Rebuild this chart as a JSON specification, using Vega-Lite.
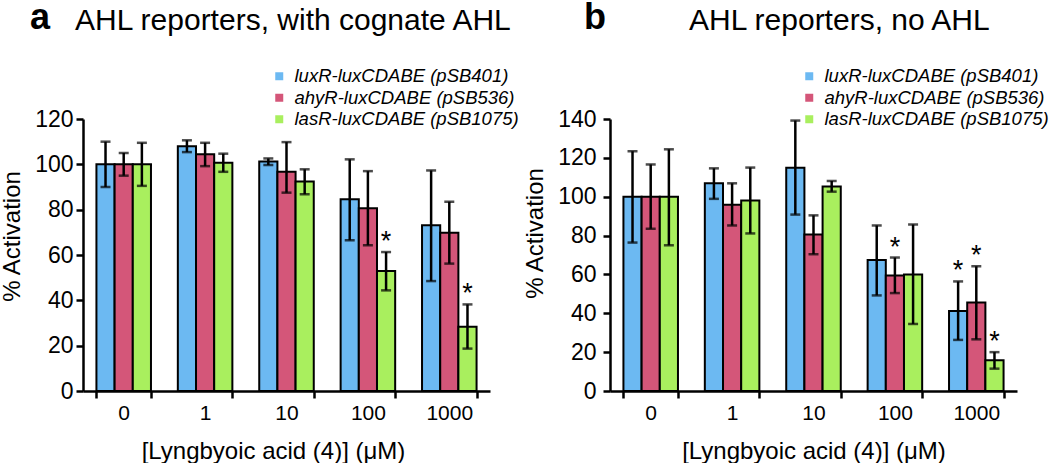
{
  "$schema": "https://vega.github.io/schema/vega-lite/v6.json",
  "padding": {"left": 0, "top": 0, "right": 0, "bottom": 0},
  "background": "white",
  "config": {
    "font": "Liberation Sans",
    "view": {"stroke": null},
    "axis": {
      "domainColor": "black", "domainWidth": 2.5, "tickColor": "black", "tickWidth": 2.5, "tickSize": 7,
      "labelColor": "black", "titleColor": "black", "titleFontWeight": "normal", "grid": false,
      "labelFont": "Liberation Sans", "titleFont": "Liberation Sans", "labelOverlap": false
    },
    "title": {"font": "Liberation Sans", "color": "black", "subtitleColor": "black", "subtitleFont": "Liberation Sans"},
    "legend": {"labelFont": "Liberation Sans", "labelColor": "black", "labelLimit": 400}
  },
  "datasets": {
    "d": [
      {"panel": "a", "conc": "0", "reporter": "luxR-luxCDABE (pSB401)", "mean": 100, "lo": 90, "hi": 110, "star": ""},
      {"panel": "a", "conc": "0", "reporter": "ahyR-luxCDABE (pSB536)", "mean": 100, "lo": 95, "hi": 105, "star": ""},
      {"panel": "a", "conc": "0", "reporter": "lasR-luxCDABE (pSB1075)", "mean": 100, "lo": 90.5, "hi": 109.5, "star": ""},
      {"panel": "a", "conc": "1", "reporter": "luxR-luxCDABE (pSB401)", "mean": 108, "lo": 105.4, "hi": 110.6, "star": ""},
      {"panel": "a", "conc": "1", "reporter": "ahyR-luxCDABE (pSB536)", "mean": 104.4, "lo": 99.2, "hi": 109.5, "star": ""},
      {"panel": "a", "conc": "1", "reporter": "lasR-luxCDABE (pSB1075)", "mean": 100.7, "lo": 96.7, "hi": 104.7, "star": ""},
      {"panel": "a", "conc": "10", "reporter": "luxR-luxCDABE (pSB401)", "mean": 101.2, "lo": 99.7, "hi": 102.6, "star": ""},
      {"panel": "a", "conc": "10", "reporter": "ahyR-luxCDABE (pSB536)", "mean": 96.7, "lo": 87.5, "hi": 109.8, "star": ""},
      {"panel": "a", "conc": "10", "reporter": "lasR-luxCDABE (pSB1075)", "mean": 92.4, "lo": 86.8, "hi": 97.8, "star": ""},
      {"panel": "a", "conc": "100", "reporter": "luxR-luxCDABE (pSB401)", "mean": 84.6, "lo": 66.5, "hi": 102.2, "star": ""},
      {"panel": "a", "conc": "100", "reporter": "ahyR-luxCDABE (pSB536)", "mean": 80.6, "lo": 64.3, "hi": 97, "star": ""},
      {"panel": "a", "conc": "100", "reporter": "lasR-luxCDABE (pSB1075)", "mean": 52.9, "lo": 44.4, "hi": 61.3, "star": "*"},
      {"panel": "a", "conc": "1000", "reporter": "luxR-luxCDABE (pSB401)", "mean": 73.1, "lo": 48.5, "hi": 97.3, "star": ""},
      {"panel": "a", "conc": "1000", "reporter": "ahyR-luxCDABE (pSB536)", "mean": 69.8, "lo": 56.2, "hi": 83.5, "star": ""},
      {"panel": "a", "conc": "1000", "reporter": "lasR-luxCDABE (pSB1075)", "mean": 28.4, "lo": 18.7, "hi": 38.2, "star": "*"},
      {"panel": "b", "conc": "0", "reporter": "luxR-luxCDABE (pSB401)", "mean": 100, "lo": 76.4, "hi": 123.4, "star": ""},
      {"panel": "b", "conc": "0", "reporter": "ahyR-luxCDABE (pSB536)", "mean": 100, "lo": 83.5, "hi": 116.6, "star": ""},
      {"panel": "b", "conc": "0", "reporter": "lasR-luxCDABE (pSB1075)", "mean": 100, "lo": 75, "hi": 124.4, "star": ""},
      {"panel": "b", "conc": "1", "reporter": "luxR-luxCDABE (pSB401)", "mean": 106.9, "lo": 98.9, "hi": 114.6, "star": ""},
      {"panel": "b", "conc": "1", "reporter": "ahyR-luxCDABE (pSB536)", "mean": 95.9, "lo": 85.2, "hi": 106.9, "star": ""},
      {"panel": "b", "conc": "1", "reporter": "lasR-luxCDABE (pSB1075)", "mean": 98.1, "lo": 81.1, "hi": 115, "star": ""},
      {"panel": "b", "conc": "10", "reporter": "luxR-luxCDABE (pSB401)", "mean": 114.9, "lo": 90.8, "hi": 139.2, "star": ""},
      {"panel": "b", "conc": "10", "reporter": "ahyR-luxCDABE (pSB536)", "mean": 80.6, "lo": 70.4, "hi": 90.4, "star": ""},
      {"panel": "b", "conc": "10", "reporter": "lasR-luxCDABE (pSB1075)", "mean": 105.2, "lo": 102.6, "hi": 108.1, "star": ""},
      {"panel": "b", "conc": "100", "reporter": "luxR-luxCDABE (pSB401)", "mean": 67.4, "lo": 49.2, "hi": 85.2, "star": ""},
      {"panel": "b", "conc": "100", "reporter": "ahyR-luxCDABE (pSB536)", "mean": 59.4, "lo": 50.4, "hi": 68.7, "star": "*"},
      {"panel": "b", "conc": "100", "reporter": "lasR-luxCDABE (pSB1075)", "mean": 59.9, "lo": 34.5, "hi": 85.7, "star": ""},
      {"panel": "b", "conc": "1000", "reporter": "luxR-luxCDABE (pSB401)", "mean": 41.2, "lo": 26.3, "hi": 56.4, "star": "*"},
      {"panel": "b", "conc": "1000", "reporter": "ahyR-luxCDABE (pSB536)", "mean": 45.5, "lo": 26.6, "hi": 64.2, "star": "*"},
      {"panel": "b", "conc": "1000", "reporter": "lasR-luxCDABE (pSB1075)", "mean": 15.8, "lo": 11.5, "hi": 20, "star": "*"}
    ]
  },
  "resolve": {"scale": {"x": "independent", "y": "independent", "color": "independent"}, "legend": {"color": "independent"}},
  "spacing": 4,
  "hconcat": [
    {
      "width": 407,
      "height": 272,
      "title": {
        "text": "a",
        "subtitle": "\u200b\u2002\u2002\u2002AHL reporters, with cognate AHL",
        "anchor": "start", "frame": "group", "dx": -53,
        "fontSize": 36, "fontWeight": "bold", "subtitleFontSize": 30, "subtitlePadding": -31, "offset": 30
      },
      "data": {"name": "d"},
      "transform": [{"filter": "datum.panel == 'a'"}],
      "encoding": {
        "x": {
          "field": "conc", "type": "nominal", "sort": ["0", "1", "10", "100", "1000"],
          "scale": {"paddingInner": 0.33, "paddingOuter": 0.165},
          "axis": {"title": "[Lyngbyoic acid (4)] (\u03bcM)", "labelAngle": 0, "labelFontSize": 21, "labelPadding": 4, "titleFontSize": 24, "titlePadding": 16, "titleX": 190, "tickBand": "extent"}
        },
        "xOffset": {"field": "reporter", "type": "nominal", "sort": ["luxR-luxCDABE (pSB401)", "ahyR-luxCDABE (pSB536)", "lasR-luxCDABE (pSB1075)"]}
      },
      "layer": [
        {
          "mark": {"type": "bar", "stroke": "black", "strokeWidth": 2},
          "encoding": {
            "y": {
              "field": "mean", "type": "quantitative", "scale": {"domain": [0, 120], "nice": false},
              "axis": {"title": "% Activation", "values": [0, 20, 40, 60, 80, 100, 120], "labelOverlap": false, "labelFontSize": 23, "labelPadding": 3, "titleFontSize": 24, "titlePadding": 10, "titleY": 117}
            },
            "color": {
              "field": "reporter", "type": "nominal",
              "sort": ["luxR-luxCDABE (pSB401)", "ahyR-luxCDABE (pSB536)", "lasR-luxCDABE (pSB1075)"],
              "scale": {"domain": ["luxR-luxCDABE (pSB401)", "ahyR-luxCDABE (pSB536)", "lasR-luxCDABE (pSB1075)"], "range": ["#6cb9f2", "#d45679", "#a9ef5e"]},
              "legend": {"title": null, "orient": "none", "legendX": 187, "legendY": -52, "labelFontSize": 18.5, "labelFontStyle": "italic", "symbolType": "square", "symbolSize": 64, "symbolStrokeWidth": 0, "rowPadding": 2.5, "labelOffset": 6}
            }
          }
        },
        {
          "mark": {"type": "rule", "color": "black", "strokeWidth": 2.5},
          "encoding": {"y": {"field": "lo", "type": "quantitative", "axis": {"title": "% Activation", "values": [0, 20, 40, 60, 80, 100, 120], "labelOverlap": false, "labelFontSize": 23, "labelPadding": 3, "titleFontSize": 24, "titlePadding": 10, "titleY": 117}}, "y2": {"field": "hi"}}
        },
        {
          "mark": {"type": "tick", "color": "black", "thickness": 2.5, "size": 10},
          "encoding": {"y": {"field": "lo", "type": "quantitative", "axis": {"title": "% Activation", "values": [0, 20, 40, 60, 80, 100, 120], "labelOverlap": false, "labelFontSize": 23, "labelPadding": 3, "titleFontSize": 24, "titlePadding": 10, "titleY": 117}}}
        },
        {
          "mark": {"type": "tick", "color": "black", "thickness": 2.5, "size": 10},
          "encoding": {"y": {"field": "hi", "type": "quantitative", "axis": {"title": "% Activation", "values": [0, 20, 40, 60, 80, 100, 120], "labelOverlap": false, "labelFontSize": 23, "labelPadding": 3, "titleFontSize": 24, "titlePadding": 10, "titleY": 117}}}
        },
        {
          "mark": {"type": "text", "fontSize": 27, "baseline": "alphabetic", "dy": -2, "color": "black"},
          "encoding": {"y": {"field": "hi", "type": "quantitative", "axis": {"title": "% Activation", "values": [0, 20, 40, 60, 80, 100, 120], "labelOverlap": false, "labelFontSize": 23, "labelPadding": 3, "titleFontSize": 24, "titlePadding": 10, "titleY": 117}}, "text": {"field": "star"}}
        }
      ]
    },
    {
      "width": 407,
      "height": 272,
      "title": {
        "text": "b",
        "subtitle": "\u200b\u2002\u2002\u2002\u2002\u2002\u2002\u2002AHL reporters, no AHL",
        "anchor": "start", "frame": "group", "dx": -26,
        "fontSize": 36, "fontWeight": "bold", "subtitleFontSize": 30, "subtitlePadding": -31, "offset": 30
      },
      "data": {"name": "d"},
      "transform": [{"filter": "datum.panel == 'b'"}],
      "encoding": {
        "x": {
          "field": "conc", "type": "nominal", "sort": ["0", "1", "10", "100", "1000"],
          "scale": {"paddingInner": 0.33, "paddingOuter": 0.165},
          "axis": {"title": "[Lyngbyoic acid (4)] (\u03bcM)", "labelAngle": 0, "labelFontSize": 21, "labelPadding": 4, "titleFontSize": 24, "titlePadding": 16, "tickBand": "extent"}
        },
        "xOffset": {"field": "reporter", "type": "nominal", "sort": ["luxR-luxCDABE (pSB401)", "ahyR-luxCDABE (pSB536)", "lasR-luxCDABE (pSB1075)"]}
      },
      "layer": [
        {
          "mark": {"type": "bar", "stroke": "black", "strokeWidth": 2},
          "encoding": {
            "y": {
              "field": "mean", "type": "quantitative", "scale": {"domain": [0, 140], "nice": false},
              "axis": {"title": "% Activation", "values": [0, 20, 40, 60, 80, 100, 120, 140], "labelOverlap": false, "labelFontSize": 23, "labelPadding": 7, "titleFontSize": 24, "titlePadding": 10, "titleY": 114}
            },
            "color": {
              "field": "reporter", "type": "nominal",
              "sort": ["luxR-luxCDABE (pSB401)", "ahyR-luxCDABE (pSB536)", "lasR-luxCDABE (pSB1075)"],
              "scale": {"domain": ["luxR-luxCDABE (pSB401)", "ahyR-luxCDABE (pSB536)", "lasR-luxCDABE (pSB1075)"], "range": ["#6cb9f2", "#d45679", "#a9ef5e"]},
              "legend": {"title": null, "orient": "none", "legendX": 190, "legendY": -52, "labelFontSize": 18.5, "labelFontStyle": "italic", "symbolType": "square", "symbolSize": 64, "symbolStrokeWidth": 0, "rowPadding": 2.5, "labelOffset": 6}
            }
          }
        },
        {
          "mark": {"type": "rule", "color": "black", "strokeWidth": 2.5},
          "encoding": {"y": {"field": "lo", "type": "quantitative", "axis": {"title": "% Activation", "values": [0, 20, 40, 60, 80, 100, 120, 140], "labelOverlap": false, "labelFontSize": 23, "labelPadding": 7, "titleFontSize": 24, "titlePadding": 10, "titleY": 114}}, "y2": {"field": "hi"}}
        },
        {
          "mark": {"type": "tick", "color": "black", "thickness": 2.5, "size": 10},
          "encoding": {"y": {"field": "lo", "type": "quantitative", "axis": {"title": "% Activation", "values": [0, 20, 40, 60, 80, 100, 120, 140], "labelOverlap": false, "labelFontSize": 23, "labelPadding": 7, "titleFontSize": 24, "titlePadding": 10, "titleY": 114}}}
        },
        {
          "mark": {"type": "tick", "color": "black", "thickness": 2.5, "size": 10},
          "encoding": {"y": {"field": "hi", "type": "quantitative", "axis": {"title": "% Activation", "values": [0, 20, 40, 60, 80, 100, 120, 140], "labelOverlap": false, "labelFontSize": 23, "labelPadding": 7, "titleFontSize": 24, "titlePadding": 10, "titleY": 114}}}
        },
        {
          "mark": {"type": "text", "fontSize": 27, "baseline": "alphabetic", "dy": -2, "color": "black"},
          "encoding": {"y": {"field": "hi", "type": "quantitative", "axis": {"title": "% Activation", "values": [0, 20, 40, 60, 80, 100, 120, 140], "labelOverlap": false, "labelFontSize": 23, "labelPadding": 7, "titleFontSize": 24, "titlePadding": 10, "titleY": 114}}, "text": {"field": "star"}}
        }
      ]
    }
  ]
}
